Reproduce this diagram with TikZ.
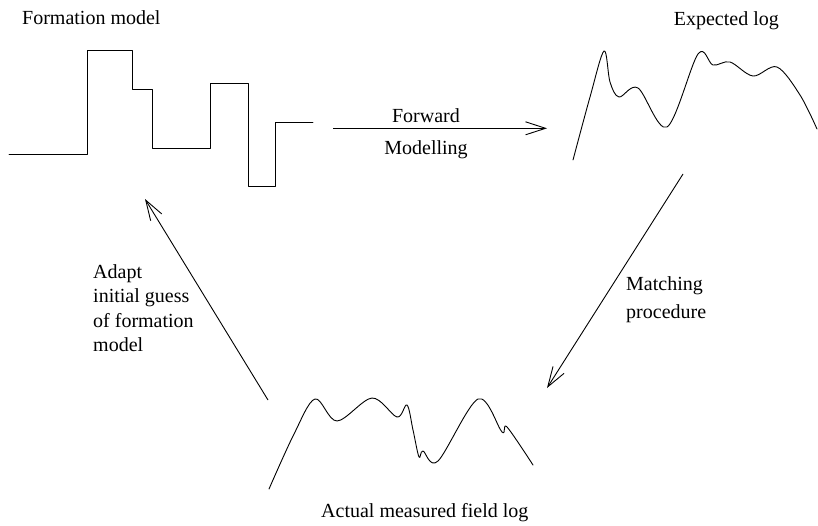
\documentclass[tikz,border=0pt]{standalone}
\usepackage{fontspec}
\setmainfont{Liberation Serif}
\usetikzlibrary{arrows.meta}
\begin{document}
\begin{tikzpicture}[x=1pt,y=-1pt,
  curve/.style={line width=0.9pt, line join=round, line cap=round},
  lbl/.style={inner sep=0pt, font=\fontsize{20}{24}\selectfont, anchor=base west},
  lble/.style={lbl, anchor=base east},
  lblc/.style={lbl, anchor=base},
  flow/.style={line width=0.9pt, -{Straight Barb[length=20pt,width=13pt,line width=0.9pt]}}]
\useasboundingbox (0,0) rectangle (818,525);

% formation model: blocky step profile
\draw[curve] (9,154) -- (87,154) -- (87,50) -- (132,50) -- (132,89) -- (152,89)
  -- (152,148) -- (210,148) -- (210,83) -- (248,83) -- (248,186) -- (275,186)
  -- (275,122) -- (313,122);

% expected log
\draw[curve] plot[smooth, tension=0.55] coordinates {
  (573,160) (590,97) (604,51) (610,82) (619,97) (638,88) (667,127)
  (698,54) (713,65) (730,62) (753,76) (777,67) (800,95) (817,129)};

% actual measured field log
\draw[curve] plot[smooth, tension=0.55] coordinates {
  (269,489) (294,434) (315,399) (337,421) (372,398) (397,417) (407,405)
  (413,430) (419,457) (423,451) (438,461) (478,399) (502,432) (507,427)
  (533,465)};

% labels
\node[lbl]  (tFm)  at (22,24)  {Formation model};
\node[lble] (tEl)  at (779,25) {Expected log};
\node[lbl]  (tAl)  at (321,517) {Actual measured field log};
\node[lblc] (tFw)  at (426,122) {Forward};
\node[lblc] (tMo)  at (426,154) {Modelling};
\node[lbl]  (tA1)  at (93,278)  {Adapt};
\node[lbl]  (tA2)  at (93,302)  {initial guess};
\node[lbl]  (tA3)  at (93,327)  {of formation};
\node[lbl]  (tA4)  at (93,351)  {model};
\node[lbl]  (tM1)  at (626,290) {Matching};
\node[lbl]  (tM2)  at (626,318) {procedure};

% connector end points
\coordinate (fwdS) at (333,128.3);
\coordinate (fwdE) at (547,128.3);
\coordinate (matS) at (683,174);
\coordinate (matE) at (547,388);
\coordinate (adaS) at (268,400);
\coordinate (adaE) at (145,199);

\draw[flow] (fwdS) -- (fwdE);
\draw[flow] (matS) -- (matE);
\draw[flow] (adaS) -- (adaE);
\end{tikzpicture}
\end{document}
